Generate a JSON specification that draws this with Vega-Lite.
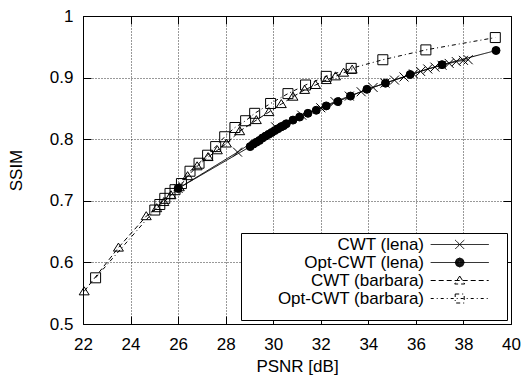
{
  "$schema": "https://vega.github.io/schema/vega-lite/v6.json",
  "width": 428,
  "height": 308,
  "autosize": "none",
  "padding": {"left": 83, "top": 16, "right": 16, "bottom": 53},
  "background": "white",
  "config": {
    "view": {"stroke": "black", "strokeWidth": 1},
    "font": "Liberation Sans"
  },
  "data": {
    "values": [
      {"s": "CWT (lena)", "x": 26.0, "y": 0.720},
      {"s": "CWT (lena)", "x": 28.5, "y": 0.779},
      {"s": "CWT (lena)", "x": 30.1, "y": 0.820},
      {"s": "CWT (lena)", "x": 31.2, "y": 0.839},
      {"s": "CWT (lena)", "x": 32.0, "y": 0.851},
      {"s": "CWT (lena)", "x": 32.6, "y": 0.861},
      {"s": "CWT (lena)", "x": 33.2, "y": 0.870},
      {"s": "CWT (lena)", "x": 33.7, "y": 0.877},
      {"s": "CWT (lena)", "x": 34.2, "y": 0.884},
      {"s": "CWT (lena)", "x": 34.7, "y": 0.891},
      {"s": "CWT (lena)", "x": 35.1, "y": 0.896},
      {"s": "CWT (lena)", "x": 35.5, "y": 0.901},
      {"s": "CWT (lena)", "x": 35.9, "y": 0.906},
      {"s": "CWT (lena)", "x": 36.2, "y": 0.910},
      {"s": "CWT (lena)", "x": 36.5, "y": 0.914},
      {"s": "CWT (lena)", "x": 36.8, "y": 0.917},
      {"s": "CWT (lena)", "x": 37.1, "y": 0.920},
      {"s": "CWT (lena)", "x": 37.4, "y": 0.923},
      {"s": "CWT (lena)", "x": 37.7, "y": 0.926},
      {"s": "CWT (lena)", "x": 38.0, "y": 0.928},
      {"s": "CWT (lena)", "x": 38.2, "y": 0.929},
      {"s": "Opt-CWT (lena)", "x": 26.0, "y": 0.720},
      {"s": "Opt-CWT (lena)", "x": 29.03, "y": 0.788},
      {"s": "Opt-CWT (lena)", "x": 29.16, "y": 0.792},
      {"s": "Opt-CWT (lena)", "x": 29.29, "y": 0.795},
      {"s": "Opt-CWT (lena)", "x": 29.42, "y": 0.798},
      {"s": "Opt-CWT (lena)", "x": 29.55, "y": 0.802},
      {"s": "Opt-CWT (lena)", "x": 29.68, "y": 0.805},
      {"s": "Opt-CWT (lena)", "x": 29.81, "y": 0.808},
      {"s": "Opt-CWT (lena)", "x": 29.94, "y": 0.811},
      {"s": "Opt-CWT (lena)", "x": 30.07, "y": 0.814},
      {"s": "Opt-CWT (lena)", "x": 30.2, "y": 0.817},
      {"s": "Opt-CWT (lena)", "x": 30.33, "y": 0.820},
      {"s": "Opt-CWT (lena)", "x": 30.44, "y": 0.822},
      {"s": "Opt-CWT (lena)", "x": 30.55, "y": 0.825},
      {"s": "Opt-CWT (lena)", "x": 30.83, "y": 0.831},
      {"s": "Opt-CWT (lena)", "x": 31.11, "y": 0.836},
      {"s": "Opt-CWT (lena)", "x": 31.46, "y": 0.842},
      {"s": "Opt-CWT (lena)", "x": 31.81, "y": 0.847},
      {"s": "Opt-CWT (lena)", "x": 32.23, "y": 0.854},
      {"s": "Opt-CWT (lena)", "x": 32.72, "y": 0.861},
      {"s": "Opt-CWT (lena)", "x": 33.25, "y": 0.870},
      {"s": "Opt-CWT (lena)", "x": 33.94, "y": 0.881},
      {"s": "Opt-CWT (lena)", "x": 34.72, "y": 0.891},
      {"s": "Opt-CWT (lena)", "x": 35.76, "y": 0.905},
      {"s": "Opt-CWT (lena)", "x": 37.10, "y": 0.921},
      {"s": "Opt-CWT (lena)", "x": 39.37, "y": 0.944},
      {"s": "CWT (barbara)", "x": 22.05, "y": 0.553},
      {"s": "CWT (barbara)", "x": 23.49, "y": 0.624},
      {"s": "CWT (barbara)", "x": 24.66, "y": 0.675},
      {"s": "CWT (barbara)", "x": 25.1, "y": 0.688},
      {"s": "CWT (barbara)", "x": 25.4, "y": 0.698},
      {"s": "CWT (barbara)", "x": 25.7, "y": 0.709},
      {"s": "CWT (barbara)", "x": 26.05, "y": 0.722},
      {"s": "CWT (barbara)", "x": 26.4, "y": 0.740},
      {"s": "CWT (barbara)", "x": 26.8, "y": 0.756},
      {"s": "CWT (barbara)", "x": 27.26, "y": 0.771},
      {"s": "CWT (barbara)", "x": 27.65, "y": 0.782},
      {"s": "CWT (barbara)", "x": 28.03, "y": 0.793},
      {"s": "CWT (barbara)", "x": 28.59, "y": 0.813},
      {"s": "CWT (barbara)", "x": 29.29, "y": 0.831},
      {"s": "CWT (barbara)", "x": 29.82, "y": 0.844},
      {"s": "CWT (barbara)", "x": 30.34, "y": 0.857},
      {"s": "CWT (barbara)", "x": 30.83, "y": 0.869},
      {"s": "CWT (barbara)", "x": 31.32, "y": 0.880},
      {"s": "CWT (barbara)", "x": 31.78, "y": 0.888},
      {"s": "CWT (barbara)", "x": 32.23, "y": 0.896},
      {"s": "CWT (barbara)", "x": 32.62, "y": 0.902},
      {"s": "CWT (barbara)", "x": 32.96, "y": 0.908},
      {"s": "CWT (barbara)", "x": 33.32, "y": 0.913},
      {"s": "Opt-CWT (barbara)", "x": 22.53, "y": 0.575},
      {"s": "Opt-CWT (barbara)", "x": 25.02, "y": 0.685},
      {"s": "Opt-CWT (barbara)", "x": 25.23, "y": 0.694},
      {"s": "Opt-CWT (barbara)", "x": 25.44, "y": 0.704},
      {"s": "Opt-CWT (barbara)", "x": 25.66, "y": 0.712},
      {"s": "Opt-CWT (barbara)", "x": 25.87, "y": 0.718},
      {"s": "Opt-CWT (barbara)", "x": 26.14, "y": 0.728},
      {"s": "Opt-CWT (barbara)", "x": 26.5, "y": 0.748},
      {"s": "Opt-CWT (barbara)", "x": 26.88, "y": 0.761},
      {"s": "Opt-CWT (barbara)", "x": 27.24, "y": 0.774},
      {"s": "Opt-CWT (barbara)", "x": 27.58, "y": 0.788},
      {"s": "Opt-CWT (barbara)", "x": 27.96, "y": 0.804},
      {"s": "Opt-CWT (barbara)", "x": 28.39, "y": 0.819},
      {"s": "Opt-CWT (barbara)", "x": 28.84, "y": 0.830},
      {"s": "Opt-CWT (barbara)", "x": 29.22, "y": 0.842},
      {"s": "Opt-CWT (barbara)", "x": 29.89, "y": 0.858},
      {"s": "Opt-CWT (barbara)", "x": 30.62, "y": 0.874},
      {"s": "Opt-CWT (barbara)", "x": 31.36, "y": 0.888},
      {"s": "Opt-CWT (barbara)", "x": 32.23, "y": 0.902},
      {"s": "Opt-CWT (barbara)", "x": 33.28, "y": 0.915},
      {"s": "Opt-CWT (barbara)", "x": 34.61, "y": 0.929},
      {"s": "Opt-CWT (barbara)", "x": 36.42, "y": 0.945},
      {"s": "Opt-CWT (barbara)", "x": 39.34, "y": 0.965}
    ]
  },
  "layer": [
    {
      "mark": {"type": "point", "size": 0, "filled": false, "opacity": 1},
      "encoding": {
        "x": {
          "field": "x", "type": "quantitative",
          "scale": {"domain": [22, 40], "nice": false, "zero": false},
          "axis": {
            "orient": "bottom", "values": [22, 24, 26, 28, 30, 32, 34, 36, 38, 40],
            "title": "PSNR [dB]", "titleFontSize": 17, "titleFontWeight": "normal", "titleColor": "black", "titlePadding": 6,
            "labelFontSize": 17, "labelColor": "black", "labelPadding": 20, "labelFlush": false,
            "ticks": true, "tickSize": -8, "tickColor": "black", "tickWidth": 1, "domain": false,
            "grid": true, "gridDash": [1, 2], "gridColor": "black", "gridOpacity": 0.8
          }
        },
        "y": {
          "field": "y", "type": "quantitative",
          "scale": {"domain": [0.5, 1], "nice": false, "zero": false},
          "axis": {
            "orient": "left", "values": [0.5, 0.6, 0.7, 0.8, 0.9, 1], "format": ".1~f",
            "title": "SSIM", "titleFontSize": 17, "titleFontWeight": "normal", "titleColor": "black", "titlePadding": 24,
            "labelFontSize": 17, "labelColor": "black", "labelPadding": 18, "labelFlush": false,
            "ticks": true, "tickSize": -8, "tickColor": "black", "tickWidth": 1, "domain": false,
            "grid": true, "gridDash": [1, 2], "gridColor": "black", "gridOpacity": 0.8
          }
        },
        "shape": {
          "field": "s", "type": "nominal",
          "scale": {
            "domain": ["CWT (lena)", "Opt-CWT (lena)", "CWT (barbara)", "Opt-CWT (barbara)"],
            "range": [
              "M-5.8,0H5.8M-0.9,-0.9L0.9,0.9M-0.9,0.9L0.9,-0.9M8.4,0",
              "M-5.8,0H5.8M0.9,0L0.64,0.64L0,0.9L-0.64,0.64L-0.9,0L-0.64,-0.64L0,-0.9L0.64,-0.64ZM0.8,0L0.57,0.57L0,0.8L-0.57,0.57L-0.8,0L-0.57,-0.57L0,-0.8L0.57,-0.57ZM0.7,0L0.5,0.5L0,0.7L-0.5,0.5L-0.7,0L-0.5,-0.5L0,-0.7L0.5,-0.5ZM0.6,0L0.42,0.42L0,0.6L-0.42,0.42L-0.6,0L-0.42,-0.42L0,-0.6L0.42,-0.42ZM0.5,0L0.35,0.35L0,0.5L-0.35,0.35L-0.5,0L-0.35,-0.35L0,-0.5L0.35,-0.35ZM0.4,0L0.28,0.28L0,0.4L-0.28,0.28L-0.4,0L-0.28,-0.28L0,-0.4L0.28,-0.28ZM0.3,0L0.21,0.21L0,0.3L-0.21,0.21L-0.3,0L-0.21,-0.21L0,-0.3L0.21,-0.21ZM0.2,0L0,0.2L-0.2,0L0,-0.2ZM0.1,0L0,0.1L-0.1,0L0,-0.1ZM8.4,0",
              "M-5.8,0H-4.8M-4.2,0H-3.2M-2.6,0H-1.6M-1,0H0M0.6,0H1.6M2.2,0H3.2M3.8,0H4.8M5.4,0H5.8M0,-0.9L1,0.7L-1,0.7ZM8.4,0",
              "M-5.8,0H-5.2M-4.6,0H-4.4M-3.8,0H-3.2M-2.6,0H-2.4M-1.8,0H-1.2M-0.6,0H-0.4M0.2,0H0.8M1.4,0H1.6M2.2,0H2.8M3.4,0H3.6M4.2,0H4.8M5.4,0H5.6M-0.9,-0.9H0.9V0.9H-0.9ZM8.4,0M0,3.2"
            ]
          },
          "legend": {
            "orient": "bottom-right", "offset": 4,
            "title": null,
            "padding": 3, "rowPadding": 0, "cornerRadius": 0,
            "strokeColor": "black", "fillColor": "white",
            "labelFontSize": 17, "labelColor": "black", "labelFont": "Liberation Sans", "labelLimit": 400,
            "labelAlign": "right", "labelOffset": -44.2, "symbolOffset": 207.2,
            "symbolSize": 100, "symbolStrokeColor": "black", "symbolStrokeWidth": 1, "symbolOpacity": 1,
            "symbolFillColor": "transparent"
          }
        }
      }
    },
    {
      "mark": {"type": "line", "color": "black", "strokeWidth": 1},
      "encoding": {
        "x": {"field": "x", "type": "quantitative",
              "axis": {"orient": "top", "offset": -8, "tickSize": 8, "tickColor": "black", "tickWidth": 1, "labels": false, "title": null, "domain": false, "grid": false,
                       "values": [22, 24, 26, 28, 30, 32, 34, 36, 38, 40]}},
        "y": {"field": "y", "type": "quantitative",
              "axis": {"orient": "right", "offset": -8, "tickSize": 8, "tickColor": "black", "tickWidth": 1, "labels": false, "title": null, "domain": false, "grid": false,
                       "values": [0.5, 0.6, 0.7, 0.8, 0.9, 1]}},
        "detail": {"field": "s"},
        "strokeDash": {
          "field": "s", "type": "nominal",
          "scale": {"domain": ["CWT (lena)", "Opt-CWT (lena)", "CWT (barbara)", "Opt-CWT (barbara)"],
                    "range": [[1, 0], [1, 0], [5, 3], [4, 3, 1, 3]]},
          "legend": null
        }
      }
    },
    {
      "transform": [{"filter": "datum.s === 'CWT (lena)'"}],
      "mark": {"type": "point", "shape": "M-1,-1L1,1M-1,1L1,-1", "size": 81, "filled": false, "stroke": "black", "strokeWidth": 1, "opacity": 1},
      "encoding": {
        "x": {"field": "x", "type": "quantitative", "axis": null},
        "y": {"field": "y", "type": "quantitative", "axis": null}
      }
    },
    {
      "transform": [{"filter": "datum.s === 'Opt-CWT (lena)'"}],
      "mark": {"type": "point", "shape": "circle", "size": 64, "filled": true, "fill": "black", "stroke": "black", "strokeWidth": 1, "opacity": 1},
      "encoding": {
        "x": {"field": "x", "type": "quantitative", "axis": null},
        "y": {"field": "y", "type": "quantitative", "axis": null}
      }
    },
    {
      "transform": [{"filter": "datum.s === 'CWT (barbara)'"}],
      "mark": {"type": "point", "shape": "M0,-0.9L1,0.7L-1,0.7Z", "size": 100, "filled": false, "stroke": "black", "strokeWidth": 1, "opacity": 1},
      "encoding": {
        "x": {"field": "x", "type": "quantitative", "axis": null},
        "y": {"field": "y", "type": "quantitative", "axis": null}
      }
    },
    {
      "transform": [{"filter": "datum.s === 'Opt-CWT (barbara)'"}],
      "mark": {"type": "point", "shape": "square", "size": 100, "filled": false, "stroke": "black", "strokeWidth": 1, "opacity": 1},
      "encoding": {
        "x": {"field": "x", "type": "quantitative", "axis": null},
        "y": {"field": "y", "type": "quantitative", "axis": null}
      }
    }
  ],
  "resolve": {"axis": {"x": "independent", "y": "independent"}}
}
